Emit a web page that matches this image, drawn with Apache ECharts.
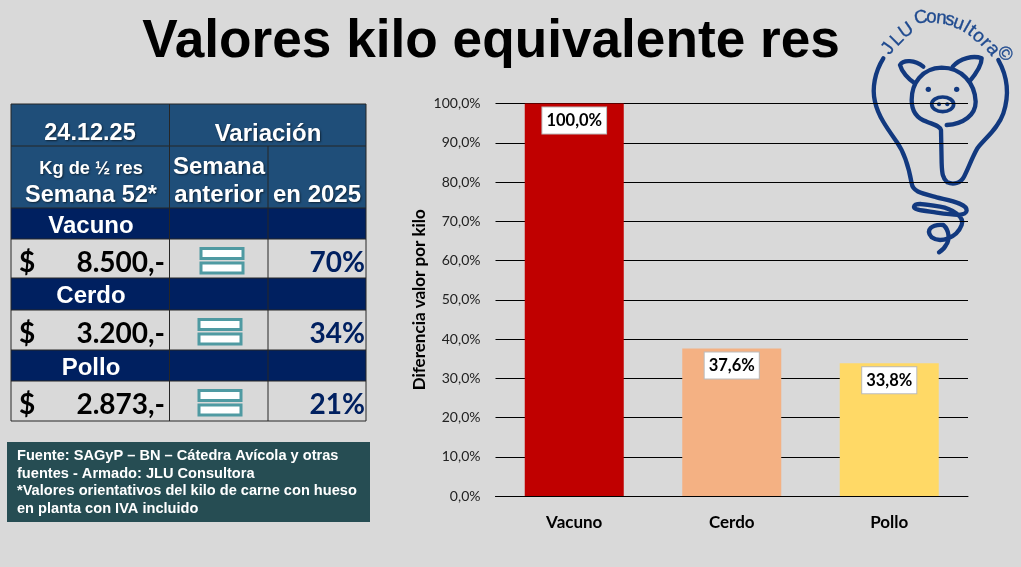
<!DOCTYPE html>
<html><head><meta charset="utf-8">
<style>html,body{margin:0;padding:0;background:#d9d9d9}#c{width:1021px;height:567px}</style>
<script src="https://cdn.jsdelivr.net/npm/echarts@6/dist/echarts.min.js"></script>
</head><body><div id="c"></div>
<script>
const categories = ['Vacuno','Cerdo','Pollo'];
const values = [100, 37.6, 33.8];
const barColors = ['#c00000','#f4b183','#ffd966'];
const prices = ['8.500,-','3.200,-','2.873,-'];
const yearVar = ['70%','34%','21%'];
const footnote = ['Fuente: SAGyP – BN – Cátedra Avícola y otras','fuentes - Armado: JLU Consultora','*Valores orientativos del kilo de carne con hueso','en planta con IVA incluido'];
const title = 'Valores kilo equivalente res';
const logoLetters = [['J',85,146,-55],['L',112,118,-45],['U',139,92,-35],['C',183,53,-10],['o',214,52,3],['n',244,55,6],['s',270,60,12],['u',296,70,20],['l',319,82,30],['t',335,92,37],['o',356,110,42],['r',377,128,48],['a',398,148,52],['©',434,162,60]];

const f = v => v.toFixed(1).replace('.',',') + '%';
const g = [];
const rect = (x,y,w,h,fill,stroke,lw,z) => g.push({type:'rect',shape:{x,y,width:w,height:h},style:{fill,stroke:stroke||null,lineWidth:lw||0},z:z==null?1:z,silent:true});
const line = (x1,y1,x2,y2,c) => g.push({type:'line',shape:{x1,y1,x2,y2},style:{stroke:c||'#262626',lineWidth:1},z:3,silent:true});
const text = (t,x,y,font,fill,align,extra) => g.push({type:'text',x,y,style:Object.assign({text:t,font,fill,align:align||'center',verticalAlign:'middle'},extra||{}),z:4,silent:true});

// title
text(title,491,42,'bold 53.2px "Liberation Sans"','#000');

// table
const hdr='#1f4e79', navy='#002060';
rect(11,104,355,104,hdr);
const rowY=[[208,239],[278,310],[350,381]];
const valY=[[239,278],[310,350],[381,421]];
categories.forEach((c,i)=>{
  rect(11,rowY[i][0],355,rowY[i][1]-rowY[i][0],navy);
  text(c,91,rowY[i][0]+18,'bold 24px "Liberation Sans"','#fff');
  const m=(valY[i][0]+valY[i][1])/2;
  text('$',19,m+4,'bold 28px Lato','#000','left');
  text(prices[i],165,m+4,'bold 28px Lato','#000','right');
  text(yearVar[i],365,m+4,'bold 28px Lato','#002060','right');
  const ix=i==0?200:198, iy=valY[i][0]+9.5;
  rect(ix+1,iy,42,10,'#fff','#4f9aa2',3,2);
  rect(ix+1,iy+14.5,42,10,'#fff','#4f9aa2',3,2);
});
[104,146,208,239,278,310,350,381,421].forEach(y=>line(11,y,366,y));
[[11,104,421],[169.5,104,421],[366,104,421],[268,146,421]].forEach(a=>line(a[0],a[1],a[0],a[2]));
const sh={textShadowColor:'rgba(0,0,0,.55)',textShadowBlur:2,textShadowOffsetX:1,textShadowOffsetY:1};
text('24.12.25',90,134,'bold 23.5px "Liberation Sans"','#fff','center',sh);
text('Variación',268,134,'bold 24px "Liberation Sans"','#fff','center',sh);
text('Kg de ½ res',91,169,'bold 18.3px "Liberation Sans"','#fff','center',sh);
text('Semana 52*',91,196,'bold 23.5px "Liberation Sans"','#fff','center',sh);
text('Semana',219,167,'bold 24px "Liberation Sans"','#fff','center',sh);
text('anterior',219,195,'bold 24px "Liberation Sans"','#fff','center',sh);
text('en 2025',317,195,'bold 24px "Liberation Sans"','#fff','center',sh);

// footnote
rect(7,442,363,80,'#264d53');
footnote.forEach((t,i)=>text(t,17,456+i*17.7,'bold 14.6px "Liberation Sans"','#fff','left'));

// logo (drawn behind the chart gridlines)
const logoC='#12397f';
const logoPaths=[
 'M70,175 C45,215 35,265 45,305 C55,350 85,390 110,425 C135,460 148,510 155,550 C158,575 185,580 230,592 C270,602 322,610 320,632 C318,650 280,645 230,638 C190,632 160,630 162,620 C165,607 195,612 240,620 C275,626 315,650 305,675 C290,715 240,730 215,712 C195,690 215,672 250,675 C268,690 270,720 258,735 C252,748 245,752 237,757',
 'M415,180 C440,225 450,280 430,340 C415,385 375,415 352,445 C335,475 325,505 312,530 C302,550 280,555 262,547 C248,535 246,520 245,490 L243,390 C240,378 225,375 200,365 C170,355 155,335 155,300 C155,250 185,205 245,203 C305,203 345,250 347,305 C347,345 310,372 260,375',
 'M190,200 C165,180 130,178 120,195 C125,215 145,238 165,250',
 'M278,200 C300,175 340,165 365,175 C365,200 345,225 328,245'
];
const logo={type:'group',x:860,y:0,scaleX:1/3,scaleY:1/3,silent:true,children:[]};
logoPaths.forEach((d,i)=>{
  echarts.graphic.registerShape('logoPath'+i, echarts.graphic.extendPath(d,{}));
  logo.children.push({type:'logoPath'+i,z:-5,silent:true,style:{fill:null,stroke:logoC,lineWidth:13,lineCap:'round',lineJoin:'round'}});
});
logo.children.push({type:'ellipse',z:-5,shape:{cx:248,cy:313,rx:33,ry:22},style:{fill:null,stroke:logoC,lineWidth:11}});
[[205,268,8],[290,268,8],[237,313,6],[262,313,6]].forEach(c=>logo.children.push({type:'circle',z:-5,shape:{cx:c[0],cy:c[1],r:c[2]},style:{fill:logoC}}));
logoLetters.forEach(l=>logo.children.push({type:'text',z:-5,x:l[1],y:l[2],rotation:-l[3]*Math.PI/180,style:{text:l[0],font:'56px "Liberation Sans"',fill:'#1f4a8f',stroke:'#1f4a8f',lineWidth:1,align:'center',verticalAlign:'middle'}}));
g.push(logo);

const chart=echarts.init(document.getElementById('c'),null,{renderer:'canvas'});
chart.setOption({
  backgroundColor:'#d9d9d9',
  animation:false,
  grid:{left:495.5,right:53,top:103.5,bottom:71,containLabel:false},
  xAxis:{type:'category',data:categories,axisTick:{show:false},axisLine:{show:true,lineStyle:{color:'#000',width:1}},
    axisLabel:{color:'#000',fontFamily:'Lato',fontWeight:'bold',fontSize:17,margin:18}},
  yAxis:{type:'value',min:0,max:100,interval:10,name:'Diferencia valor por kilo',nameLocation:'middle',nameGap:67,
    nameTextStyle:{color:'#000',fontFamily:'Lato',fontWeight:'bold',fontSize:17},
    axisLine:{show:false},axisTick:{show:false},
    axisLabel:{color:'#222',fontFamily:'Lato',fontSize:14,margin:15,formatter:v=>f(v)},
    splitLine:{show:true,lineStyle:{color:'#000',width:1}}},
  series:[{type:'bar',barWidth:99,z:5,
    data:values.map((v,i)=>({value:v,itemStyle:{color:barColors[i]}})),
    label:{show:true,position:'insideTop',distance:4,formatter:p=>f(p.value),color:'#000',fontFamily:'Lato',fontWeight:'bold',fontSize:16.5,
      backgroundColor:'#fff',borderColor:'#bbb',borderWidth:1,padding:[5,4,4,4]}}],
  graphic:{elements:g}
});
</script></body></html>
